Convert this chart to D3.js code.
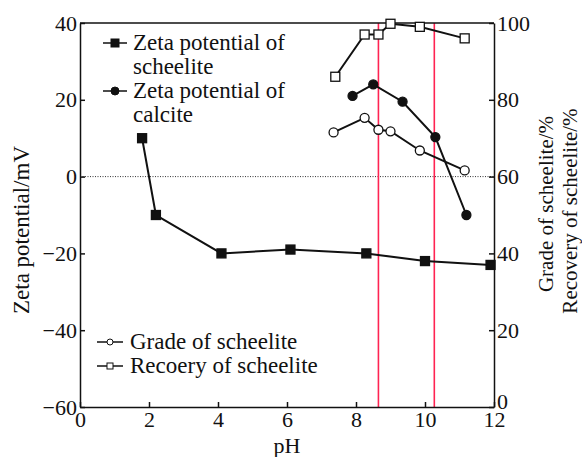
<!DOCTYPE html>
<html lang="en">
<head>
  <meta charset="UTF-8">
  <title>Zeta potential and flotation vs pH</title>
  <script src="https://cdn.jsdelivr.net/npm/d3@7"></script>
  <style>
    body { margin: 0; background: #fff; }
    .axis path, .axis line { stroke: #111; stroke-width: 1.5; }
  </style>
</head>
<body>
  <svg width="582" height="457"></svg>
  <script>
    // data
    const scheeliteZetaPH = [1.8, 2.2, 4.1, 6.1, 8.3, 10.0, 11.9];
    const scheeliteZeta = [10, -10, -20, -19, -20, -22, -23];

    const calciteZetaPH = [7.9, 8.5, 9.35, 10.3, 11.2];
    const calciteZeta = [21, 24, 19.5, 10.3, -10];

    const gradePH = [7.35, 8.25, 8.65, 9.0, 9.85, 11.15];
    const grade = [71.5, 75.3, 72.2, 71.8, 66.8, 61.6];

    const recoveryPH = [7.4, 8.25, 8.65, 9.0, 9.85, 11.15];
    const recovery = [86, 97, 97, 99.8, 99, 96];

    const markerLines = [8.65, 10.27];
    const xTicks = [0, 2, 4, 6, 8, 10, 12];
    const yLeftTicks = [-60, -40, -20, 0, 20, 40];
    const yRightTicks = [0, 20, 40, 60, 80, 100];

    const FONT = '"Liberation Serif", "Times New Roman", serif';
    const svg = d3.select('svg');
    const pLeft = 80, pRight = 494, pTop = 23, pBottom = 407;

    const x = d3.scaleLinear().domain([0, 12]).range([pLeft, pRight]);
    const yL = d3.scaleLinear().domain([-60, 40]).range([pBottom, pTop]);
    const yR = d3.scaleLinear().domain([0, 100]).range([pBottom, pTop]);

    // zero line
    svg.append('line')
      .attr('x1', pLeft).attr('x2', pRight)
      .attr('y1', yL(0)).attr('y2', yL(0))
      .attr('stroke', '#333').attr('stroke-width', 1)
      .attr('stroke-dasharray', '1,1.5');

    // red guide lines
    svg.selectAll('.guide')
      .data(markerLines)
      .enter()
      .append('line')
      .attr('class', 'guide')
      .attr('x1', d => x(d)).attr('x2', d => x(d))
      .attr('y1', pTop).attr('y2', pBottom)
      .attr('stroke', '#ff2352').attr('stroke-width', 1.6);

    // axes, ticks inside
    const fixFont = g => g.selectAll('text')
      .style('font-family', FONT).style('font-size', '22px').style('fill', '#111');

    svg.append('g').attr('class', 'axis')
      .attr('transform', `translate(0,${pBottom})`)
      .call(d3.axisBottom(x).tickValues(xTicks).tickSizeInner(-5).tickSizeOuter(0).tickPadding(4))
      .call(fixFont);

    svg.append('g').attr('class', 'axis')
      .attr('transform', `translate(${pLeft},0)`)
      .call(d3.axisLeft(yL).tickValues(yLeftTicks).tickSizeInner(-5).tickSizeOuter(0).tickPadding(3))
      .call(fixFont);

    svg.append('g').attr('class', 'axis')
      .attr('transform', `translate(${pRight},0)`)
      .call(d3.axisRight(yR).tickValues(yRightTicks).tickSizeInner(-5).tickSizeOuter(0).tickPadding(3))
      .call(fixFont)
      .call(g => g.selectAll('.tick text').filter(d => d === 0).attr('dy', '0.05em'));

    // top frame
    svg.append('line')
      .attr('x1', pLeft).attr('x2', pRight)
      .attr('y1', pTop).attr('y2', pTop)
      .attr('stroke', '#111').attr('stroke-width', 1.5);

    function label(sel, size) {
      return sel.style('font-family', FONT).style('font-size', size + 'px').style('fill', '#111');
    }

    // axis titles
    svg.append('text')
      .attr('transform', `translate(29,230) rotate(-90)`)
      .attr('text-anchor', 'middle')
      .call(label, 23)
      .text('Zeta potential/mV');

    svg.append('text')
      .attr('x', 287).attr('y', 453)
      .attr('text-anchor', 'middle')
      .call(label, 22)
      .text('pH');

    svg.append('text')
      .attr('transform', `translate(553,204) rotate(-90)`)
      .attr('text-anchor', 'middle')
      .call(label, 21)
      .text('Grade of scheelite/%');

    svg.append('text')
      .attr('transform', `translate(577,211) rotate(-90)`)
      .attr('text-anchor', 'middle')
      .call(label, 21)
      .text('Recovery of scheelite/%');

    // series
    const line = d3.line().x(d => x(d[0])).y(d => d[1]);

    function drawSeries(px, vals, yScale, shape, filled) {
      const pts = px.map((p, i) => [p, yScale(vals[i])]);
      svg.append('path')
        .attr('d', line(pts))
        .attr('fill', 'none')
        .attr('stroke', '#111')
        .attr('stroke-width', 2);
      drawMarkers(pts.map(d => [x(d[0]), d[1]]), shape, filled);
    }

    function drawMarkers(pts, shape, filled) {
      const g = svg.append('g');
      if (shape === 'square') {
        g.selectAll('rect').data(pts).enter().append('rect')
          .attr('x', d => d[0] - 4.5).attr('y', d => d[1] - 4.5)
          .attr('width', 9).attr('height', 9)
          .attr('fill', filled ? '#111' : '#fff')
          .attr('stroke', '#111').attr('stroke-width', 1.3);
      } else {
        g.selectAll('circle').data(pts).enter().append('circle')
          .attr('cx', d => d[0]).attr('cy', d => d[1])
          .attr('r', 4.5)
          .attr('fill', filled ? '#111' : '#fff')
          .attr('stroke', '#111').attr('stroke-width', 1.3);
      }
    }

    drawSeries(scheeliteZetaPH, scheeliteZeta, yL, 'square', true);
    drawSeries(calciteZetaPH, calciteZeta, yL, 'circle', true);
    drawSeries(gradePH, grade, yR, 'circle', false);
    drawSeries(recoveryPH, recovery, yR, 'square', false);

    // legends
    const legendTop = [
      { lines: ['Zeta potential of', 'scheelite'], shape: 'square', filled: true, y: 43, size: 8 },
      { lines: ['Zeta potential of', 'calcite'], shape: 'circle', filled: true, y: 91, size: 8 }
    ];
    const legendBottom = [
      { lines: ['Grade of scheelite'], shape: 'circle', filled: false, y: 342, size: 6 },
      { lines: ['Recoery of scheelite'], shape: 'square', filled: false, y: 366, size: 6 }
    ];

    function drawLegend(items, x0, x1, tx) {
      items.forEach(it => {
        svg.append('line')
          .attr('x1', x0).attr('x2', x1)
          .attr('y1', it.y).attr('y2', it.y)
          .attr('stroke', '#111').attr('stroke-width', 1.5);
        const cx = (x0 + x1) / 2, s = it.size;
        if (it.shape === 'square') {
          svg.append('rect')
            .attr('x', cx - s / 2).attr('y', it.y - s / 2)
            .attr('width', s).attr('height', s)
            .attr('fill', it.filled ? '#111' : '#fff')
            .attr('stroke', '#111').attr('stroke-width', 1);
        } else {
          svg.append('circle')
            .attr('cx', cx).attr('cy', it.y).attr('r', s / 2)
            .attr('fill', it.filled ? '#111' : '#fff')
            .attr('stroke', '#111').attr('stroke-width', 1);
        }
        it.lines.forEach((t, i) => {
          svg.append('text')
            .attr('x', tx).attr('y', it.y + 7 + i * 24)
            .call(label, 23)
            .text(t);
        });
      });
    }

    drawLegend(legendTop, 103, 127, 133);
    drawLegend(legendBottom, 97, 123, 130);
  </script>
</body>
</html>
